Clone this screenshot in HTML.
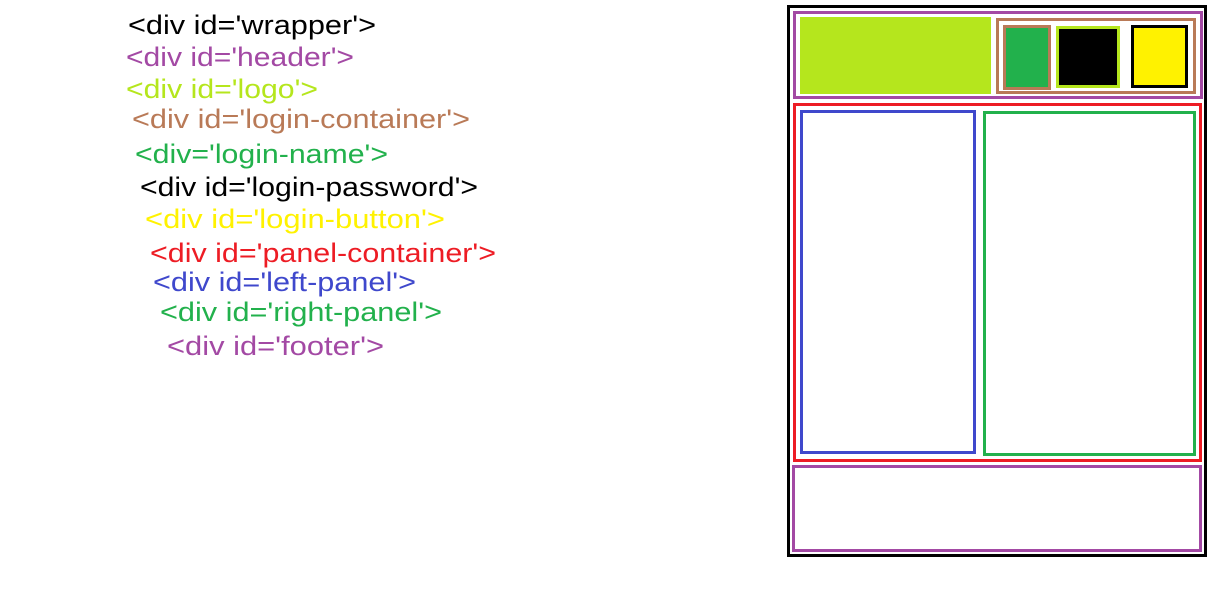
<!DOCTYPE html>
<html><head><meta charset="utf-8"><style>html,body{margin:0;padding:0;background:#fff;}svg{display:block}</style></head>
<body>
<svg width="1218" height="594" xmlns="http://www.w3.org/2000/svg" font-family="Liberation Sans, sans-serif" font-size="27">
<text x="128" y="34" textLength="248" lengthAdjust="spacingAndGlyphs" fill="#000">&lt;div id='wrapper'&gt;</text>
<text x="126" y="66" textLength="228" lengthAdjust="spacingAndGlyphs" fill="#a349a4">&lt;div id='header'&gt;</text>
<text x="126" y="98" textLength="192" lengthAdjust="spacingAndGlyphs" fill="#b5e61d">&lt;div id='logo'&gt;</text>
<text x="132" y="128" textLength="338" lengthAdjust="spacingAndGlyphs" fill="#b97a57">&lt;div id='login-container'&gt;</text>
<text x="135" y="163" textLength="253" lengthAdjust="spacingAndGlyphs" fill="#22b14c">&lt;div='login-name'&gt;</text>
<text x="140" y="196" textLength="338" lengthAdjust="spacingAndGlyphs" fill="#000">&lt;div id='login-password'&gt;</text>
<text x="145" y="228" textLength="300" lengthAdjust="spacingAndGlyphs" fill="#fff200">&lt;div id='login-button'&gt;</text>
<text x="150" y="262" textLength="346" lengthAdjust="spacingAndGlyphs" fill="#ed1c24">&lt;div id='panel-container'&gt;</text>
<text x="153" y="291" textLength="263" lengthAdjust="spacingAndGlyphs" fill="#3f48cc">&lt;div id='left-panel'&gt;</text>
<text x="160" y="321" textLength="282" lengthAdjust="spacingAndGlyphs" fill="#22b14c">&lt;div id='right-panel'&gt;</text>
<text x="167" y="355" textLength="217" lengthAdjust="spacingAndGlyphs" fill="#a349a4">&lt;div id='footer'&gt;</text>
<g fill="none" stroke-width="3">
<rect x="788.5" y="6.5" width="417" height="549" stroke="#000"/>
<rect x="794.5" y="12.5" width="407" height="85" stroke="#a349a4"/>
<rect x="800" y="17" width="191" height="77" fill="#b5e61d" stroke="none"/>
<rect x="997.5" y="19.5" width="197" height="73" stroke="#b97a57"/>
<rect x="1004.5" y="26.5" width="45" height="62" stroke="#b97a57" fill="#22b14c"/>
<rect x="1057.5" y="27.5" width="61" height="59" stroke="#b5e61d" fill="#000"/>
<rect x="1132.5" y="26.5" width="54" height="60" stroke="#000" fill="#fff200"/>
<rect x="794.5" y="104.5" width="406" height="356" stroke="#ed1c24"/>
<rect x="801.5" y="111.5" width="173" height="341" stroke="#3f48cc"/>
<rect x="984.5" y="112.5" width="210" height="342" stroke="#22b14c"/>
<rect x="793.5" y="466.5" width="407" height="84" stroke="#a349a4"/>
</g>
</svg>
</body></html>
